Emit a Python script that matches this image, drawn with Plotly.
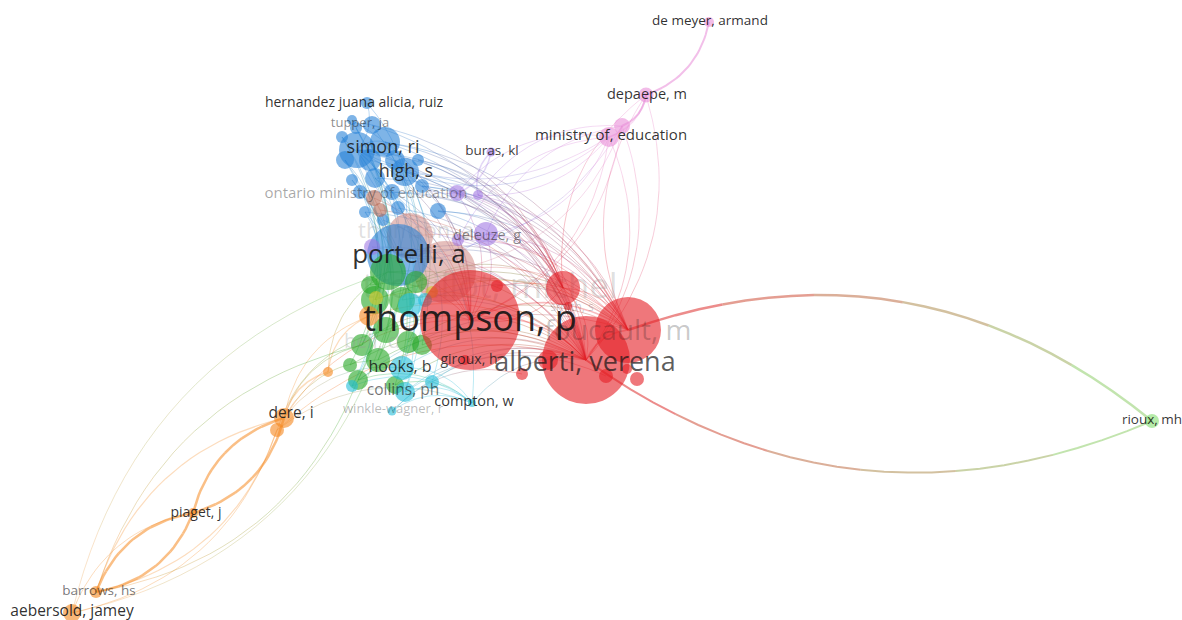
import plotly.graph_objects as go

# ---------------- data ----------------
node_key = ["S0", "S1", "portelli", "simon", "B2", "high", "hernandez", "tupper", "B6", "B7",
            "B8", "B9", "B10", "B11", "B12", "B13", "B14", "B15", "B16", "B17", "B18", "B19", "B20", "B21",
            "ontario", "brown2", "deleuze", "P1", "P2", "buras", "P4", "P5",
            "ministry", "K1", "depaepe", "demeyer",
            "G0", "G1", "G2", "G3", "G4", "bell", "G6", "G7", "G8", "G9", "G10", "G11", "G12", "rioux",
            "Y0", "Y1",
            "hooks", "collins", "compton", "winkle", "C4", "C5", "C6", "C7",
            "dere", "O1", "piaget", "barrows", "aebersold", "O5", "O6",
            "thompson", "alberti", "foucault", "R3", "smith", "R5", "R6", "R7", "R8", "R9", "R10", "giroux"]
node_x = [445, 410, 398, 357, 385, 405, 367, 356, 342, 372,
          345, 375, 392, 360, 422, 438, 365, 398, 383, 352, 418, 370, 395, 352,
          374, 380, 486, 457, 478, 491, 372, 458,
          609, 622, 646, 709,
          388, 375, 402, 386, 408, 362, 378, 358, 422, 416, 395, 370, 350, 1152,
          376, 432,
          402, 405, 472, 392, 410, 432, 352, 425,
          284, 277, 193, 96, 72, 328, 369,
          470, 586, 628, 563, 568, 606, 637, 627, 548, 522, 497, 465]
node_y = [272, 236, 255, 150, 142, 172, 103, 128, 137, 125,
          160, 178, 192, 192, 186, 211, 212, 208, 220, 180, 160, 160, 160, 120,
          198, 210, 234, 193, 195, 152, 247, 240,
          137, 126, 95, 22,
          272, 300, 300, 330, 342, 345, 360, 380, 345, 282, 385, 285, 365, 421,
          298, 292,
          368, 392, 403, 411, 305, 382, 386, 300,
          418, 430, 513, 592, 613, 372, 316,
          320, 360, 330, 288, 306, 376, 379, 369, 360, 374, 286, 360]
node_weight = [62, 46, 62, 36, 30, 28, 12, 12, 12, 18,
               18, 20, 16, 14, 14, 16, 12, 14, 12, 12, 12, 22, 20, 10,
               16, 14, 24, 16, 10, 9, 16, 12,
               20, 16, 15, 10,
               36, 28, 26, 26, 22, 22, 24, 20, 20, 22, 18, 18, 14, 14,
               14, 12,
               24, 20, 8, 9, 24, 14, 12, 14,
               20, 14, 10, 12, 18, 10, 20,
               100, 88, 66, 34, 8, 14, 14, 10, 20, 12, 12, 10]
node_cluster = (["salmon"] * 2 + ["blue"] * 22 + ["brown"] * 2 + ["purple"] * 6 + ["pink"] * 4
                + ["green"] * 13 + ["lgreen"] + ["yellow"] * 2 + ["cyan"] * 8 + ["orange"] * 7
                + ["red"] * 12)

# links: (source, target, strength)
links = [
    # orange chain
    ("dere", "piaget", 2.5), ("piaget", "dere", 2.5), ("piaget", "barrows", 2.5), ("barrows", "piaget", 2.5),
    ("O1", "barrows", 1.2), ("barrows", "dere", 1.2), ("O1", "aebersold", 1.0), ("aebersold", "piaget", 1.0),
    ("dere", "O5", 1.5), ("O5", "O6", 1.2), ("dere", "O6", 1.0), ("dere", "thompson", 1.0),
    ("O1", "G3", 1.0), ("dere", "hooks", 1.0), ("dere", "G6", 1.0), ("O1", "alberti", 1.0),
    ("O1", "compton", 1.0), ("dere", "bell", 1.0), ("O5", "G0", 1.0),
    # long green arcs
    ("G7", "barrows", 1.0), ("barrows", "bell", 1.0), ("G3", "aebersold", 0.8), ("aebersold", "G0", 0.8),
    # rioux
    ("foucault", "rioux", 2.5), ("rioux", "alberti", 2.0),
    # pink
    ("demeyer", "depaepe", 2.0), ("depaepe", "K1", 2.0), ("K1", "ministry", 1.5), ("depaepe", "ministry", 1.5),
    ("ministry", "thompson", 1.0), ("K1", "alberti", 1.0), ("R3", "depaepe", 1.0), ("foucault", "depaepe", 1.0),
    ("ministry", "simon", 1.0), ("K1", "portelli", 1.0), ("ministry", "deleuze", 1.0), ("depaepe", "alberti", 1.0),
    ("K1", "S0", 1.0), ("ministry", "P1", 1.0), ("ministry", "high", 1.0), ("K1", "thompson", 1.0),
    ("ministry", "alberti", 1.0),
    # purple
    ("buras", "P1", 1.5), ("P2", "buras", 1.5), ("deleuze", "thompson", 1.0), ("deleuze", "portelli", 1.0),
    ("P1", "high", 1.0), ("P2", "R3", 1.0), ("deleuze", "foucault", 1.0), ("deleuze", "alberti", 1.0),
    ("P1", "alberti", 1.0), ("P4", "thompson", 1.0), ("P5", "simon", 1.0), ("P2", "foucault", 1.0),
    ("P1", "thompson", 1.0), ("P5", "foucault", 1.0), ("P5", "alberti", 1.0), ("deleuze", "R3", 1.0),
    ("P1", "R3", 1.0), ("P2", "alberti", 1.0), ("P1", "ministry", 1.0), ("P2", "K1", 1.0),
    ("deleuze", "K1", 1.0), ("P5", "ministry", 1.0), ("P4", "alberti", 1.0),
    # blue
    ("simon", "thompson", 1.0), ("simon", "alberti", 1.0), ("simon", "portelli", 1.0), ("high", "thompson", 1.0),
    ("high", "alberti", 1.0), ("B2", "foucault", 1.0), ("B7", "R3", 1.0), ("B10", "thompson", 1.0),
    ("B13", "alberti", 1.0), ("B12", "foucault", 1.0), ("hernandez", "portelli", 1.0), ("B6", "G0", 1.0),
    ("B8", "G1", 1.0), ("B17", "G3", 1.0), ("B11", "hooks", 1.0), ("tupper", "bell", 1.0),
    ("B14", "collins", 1.0), ("simon", "C4", 1.0), ("B19", "G6", 1.0), ("high", "G4", 1.0),
    ("B9", "compton", 1.0), ("simon", "B2", 1.0), ("simon", "high", 1.0), ("B2", "high", 1.0),
    ("hernandez", "simon", 1.0), ("tupper", "B7", 1.0), ("B6", "G7", 1.0), ("B8", "C6", 1.0),
    ("B18", "R3", 1.0), ("B12", "alberti", 1.0), ("ontario", "thompson", 1.0), ("ontario", "G1", 1.0),
    ("B20", "thompson", 1.0), ("B19", "alberti", 1.0), ("B9", "foucault", 1.0), ("B10", "R3", 1.0),
    ("B15", "alberti", 1.0), ("B16", "thompson", 1.0), ("B13", "R3", 1.0), ("B13", "foucault", 1.0),
    ("B12", "R3", 1.0), ("B18", "alberti", 1.0), ("B2", "alberti", 1.0), ("B2", "R3", 1.0),
    ("high", "foucault", 1.0), ("simon", "foucault", 1.0), ("simon", "R3", 1.0), ("B7", "alberti", 1.0),
    ("B21", "thompson", 1.0), ("B14", "alberti", 1.0), ("B11", "foucault", 1.0),
    ("B21", "G7", 1.0), ("B6", "G12", 1.0), ("B8", "bell", 1.0), ("B17", "G6", 1.0),
    ("B11", "G10", 1.0), ("simon", "G1", 1.0), ("B2", "G3", 1.0), ("B19", "collins", 1.0),
    ("B7", "hooks", 1.0), ("tupper", "C6", 1.0), ("B14", "G11", 1.0), ("high", "C4", 1.0),
    ("B20", "G2", 1.0), ("B9", "G8", 1.0), ("B10", "C5", 1.0), ("brown2", "alberti", 1.0),
    # red / centre
    ("thompson", "alberti", 1.5), ("thompson", "foucault", 1.5), ("alberti", "foucault", 1.5),
    ("R3", "thompson", 1.0), ("R3", "alberti", 1.0), ("R3", "foucault", 1.0),
    ("G0", "thompson", 1.0), ("G0", "alberti", 1.0), ("G1", "foucault", 1.0), ("G3", "alberti", 1.0),
    ("hooks", "alberti", 1.0), ("collins", "alberti", 1.0), ("compton", "alberti", 1.0), ("collins", "compton", 1.0),
    ("hooks", "compton", 1.0), ("winkle", "alberti", 1.0), ("winkle", "compton", 1.0), ("bell", "thompson", 1.0),
    ("G7", "alberti", 1.0), ("C6", "foucault", 1.0), ("S0", "alberti", 1.0), ("S0", "foucault", 1.0),
    ("S1", "foucault", 1.0), ("portelli", "alberti", 1.0), ("portelli", "foucault", 1.0), ("portelli", "R3", 1.0),
    ("O6", "alberti", 1.0), ("Y0", "alberti", 1.0), ("Y1", "foucault", 1.0), ("G9", "R3", 1.0),
    ("R10", "foucault", 1.0), ("collins", "R5", 1.0), ("winkle", "R9", 1.0),
    ("G2", "alberti", 1.0), ("G4", "foucault", 1.0), ("G8", "alberti", 1.0), ("G9", "foucault", 1.0),
    ("C4", "alberti", 1.0), ("C7", "foucault", 1.0), ("G6", "alberti", 1.0), ("G10", "alberti", 1.0),
    ("C5", "alberti", 1.0), ("G11", "thompson", 1.0), ("G12", "alberti", 1.0),
    ("G7", "compton", 1.0), ("C6", "compton", 1.0), ("G10", "compton", 1.0),
]

# labels
label_text = ["thompson, p", "alberti, verena", "foucault, m", "portelli, a", "simon, ri", "high, s",
              "hernandez juana alicia, ruiz", "tupper, ja", "ontario ministry of education", "buras, kl",
              "ministry of, education", "depaepe, m", "de meyer, armand", "deleuze, g", "hooks, b",
              "collins, ph", "compton, w", "winkle-wagner, r", "giroux, h", "dere, i", "piaget, j",
              "barrows, hs", "aebersold, jamey", "rioux, mh", "smith, s"]
label_x = [470, 585, 618, 409, 383, 406, 354, 360, 366, 492, 611, 647, 710, 487, 400,
           403, 474, 393, 469, 291, 196, 99, 72, 1152, 572]
label_y = [322, 364, 333, 256, 148, 172, 103, 124, 194, 152, 136, 95, 22, 236, 368,
           391, 402, 410, 360, 414, 513, 592, 612, 421, 308]
label_px = [36, 27, 28, 26, 18, 18, 14, 13, 15, 13.5, 15, 14.5, 13.5, 14.5, 16,
            15.5, 14.5, 13, 14, 15.5, 14, 13.5, 15.5, 13.5, 12]
label_shade = [0.92, 0.7, 0.24, 0.9, 0.85, 0.85, 0.9, 0.5, 0.38, 0.85, 0.88, 0.88, 0.9, 0.5, 0.85,
               0.6, 0.88, 0.3, 0.8, 0.88, 0.88, 0.6, 0.9, 0.88, 0.22]

# labels largely covered by bubbles
hidden_text = ["trouillot, michel", "thomson, a"]
hidden_x = [490, 416]
hidden_y = [289, 232]
hidden_px = [35, 22]

# ---------------- styles ----------------
palette = {
    "red": (228, 30, 36), "green": (38, 168, 38), "blue": (38, 130, 215), "yellow": (215, 200, 40),
    "purple": (158, 116, 225), "cyan": (36, 190, 218), "orange": (245, 138, 35), "brown": (180, 100, 78),
    "pink": (232, 138, 215), "lgreen": (135, 222, 115), "salmon": (205, 128, 122),
}
node_alpha = {"red": 0.86, "green": 0.86, "blue": 0.85, "yellow": 0.85, "purple": 0.82, "cyan": 0.85,
              "orange": 0.88, "brown": 0.82, "pink": 0.82, "lgreen": 0.88, "salmon": 0.72}

idx = {k: i for i, k in enumerate(node_key)}

fig = go.Figure()

# ---- curved links with colour gradient ----
NSEG = 6
PTS = 5
groups = {}
for a, b, w in links:
    ia, ib = idx[a], idx[b]
    x0, y0, x1, y1 = node_x[ia], node_y[ia], node_x[ib], node_y[ib]
    dx, dy = x1 - x0, y1 - y0
    k = 0.28
    cx, cy = (x0 + x1) / 2 + k * dy, (y0 + y1) / 2 - k * dx
    ca, cb = palette[node_cluster[ia]], palette[node_cluster[ib]]
    alpha = 0.55 if w >= 2 else 0.3
    for s in range(NSEG):
        f = (s + 0.5) / NSEG
        col = tuple(int(round(ca[j] * (1 - f) + cb[j] * f)) for j in range(3))
        key = (col, round(w, 1), alpha)
        xs, ys = groups.setdefault(key, ([], []))
        for p in range(PTS):
            t = (s + p / (PTS - 1)) / NSEG
            xs.append((1 - t) ** 2 * x0 + 2 * (1 - t) * t * cx + t ** 2 * x1)
            ys.append((1 - t) ** 2 * y0 + 2 * (1 - t) * t * cy + t ** 2 * y1)
        xs.append(None)
        ys.append(None)

for (col, w, alpha), (xs, ys) in groups.items():
    fig.add_trace(go.Scatter(
        x=xs, y=ys, mode="lines", hoverinfo="skip",
        line=dict(color=f"rgba({col[0]},{col[1]},{col[2]},{alpha})", width=w),
    ))

# hidden labels (under bubbles)
fig.add_trace(go.Scatter(
    x=hidden_x, y=hidden_y, mode="text", text=hidden_text, hoverinfo="skip",
    textfont=dict(family="Open Sans", size=hidden_px, color="rgba(150,150,150,0.3)"),
    textposition="middle center",
))

# nodes
fig.add_trace(go.Scatter(
    x=node_x, y=node_y, mode="markers", hoverinfo="skip",
    marker=dict(
        size=node_weight,
        color=[f"rgba({palette[c][0]},{palette[c][1]},{palette[c][2]},{node_alpha[c]})" for c in node_cluster],
        line=dict(width=0),
    ),
))

# partly covered label drawn above the bubbles
fig.add_trace(go.Scatter(
    x=[372], y=[343], mode="text", text=["bell, d"], hoverinfo="skip",
    textfont=dict(family="Open Sans", size=20, color="rgba(150,150,150,0.3)"),
    textposition="middle center",
))

# labels
fig.add_trace(go.Scatter(
    x=label_x, y=label_y, mode="text", text=label_text, hoverinfo="skip",
    textfont=dict(family="Open Sans", size=label_px,
                  color=[f"rgba(20,20,20,{s})" for s in label_shade]),
    textposition="middle center",
))

fig.update_layout(
    width=1182, height=620,
    margin=dict(l=0, r=0, t=0, b=0),
    paper_bgcolor="white", plot_bgcolor="white",
    showlegend=False,
    hovermode=False,
    xaxis=dict(range=[0, 1182], visible=False, fixedrange=True),
    yaxis=dict(range=[620, 0], visible=False, fixedrange=True),
)

fig.write_html("out.html", config={"displayModeBar": False},
               post_script="document.body.style.margin='0px';")
